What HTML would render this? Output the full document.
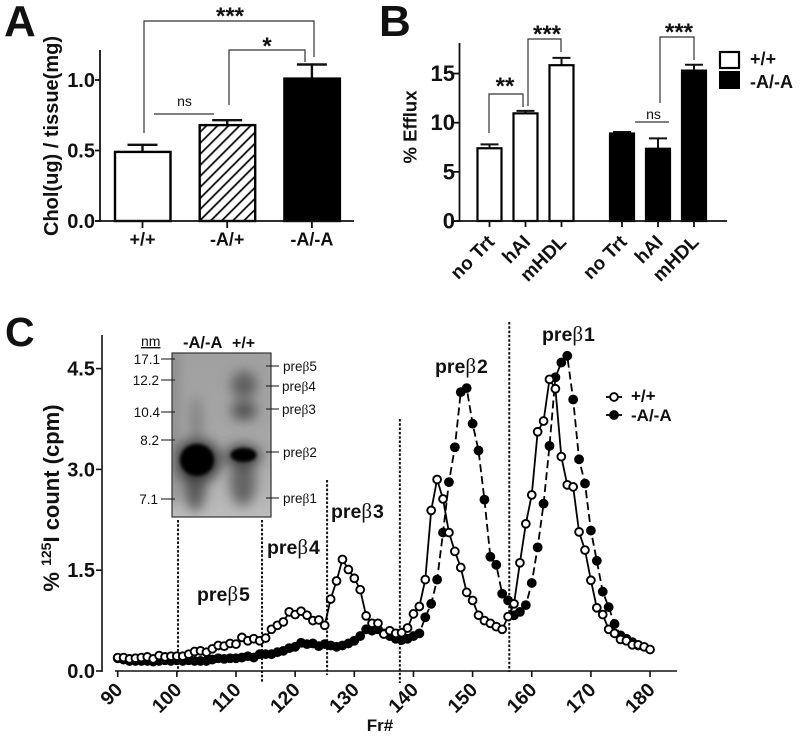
<!DOCTYPE html>
<html>
<head>
<meta charset="utf-8">
<title>Panels A, B, C</title>
<style>
html,body{margin:0;padding:0;background:#fff;}
svg{display:block;}
text{font-family:"Liberation Sans",sans-serif;fill:#111;}
.b{font-weight:bold;}
.beta{font-family:"Liberation Serif",serif;font-weight:normal;}
</style>
</head>
<body>
<svg id="fig" width="800" height="737" viewBox="0 0 800 737" xmlns="http://www.w3.org/2000/svg">
<defs>
<pattern id="hatch" width="7.8" height="7.8" patternUnits="userSpaceOnUse" patternTransform="rotate(45)">
<rect width="7.8" height="7.8" fill="#fff"/><rect x="0" width="1.8" height="7.8" fill="#111"/>
</pattern>
<filter id="b2"><feGaussianBlur stdDeviation="1.6"/></filter>
<filter id="b5"><feGaussianBlur stdDeviation="4"/></filter>
<filter id="b8"><feGaussianBlur stdDeviation="6"/></filter>
<clipPath id="gelclip"><rect x="172" y="353" width="99" height="164"/></clipPath>
<linearGradient id="gelbg" x1="0" y1="0" x2="0" y2="1">
<stop offset="0" stop-color="#a0a0a0"/><stop offset="0.6" stop-color="#a8a8a8"/><stop offset="1" stop-color="#bcbcbc"/>
</linearGradient>
</defs>

<text class="b" x="4" y="36" font-size="44">A</text>
<text class="b" x="379" y="36" font-size="44">B</text>
<text class="b" x="5" y="346" font-size="41">C</text>

<g id="panelA"></g>
<g id="panelB"></g>
<g id="panelC"></g>

<g>
<g clip-path="url(#gelclip)">
<rect x="172" y="353" width="99" height="164" fill="url(#gelbg)"/>
<g filter="url(#b8)">
<ellipse cx="195" cy="485" rx="11" ry="26" fill="#5a5a5a"/>
<ellipse cx="196" cy="425" rx="6" ry="30" fill="#808080"/>
<ellipse cx="244" cy="385" rx="13" ry="14" fill="#5e5e5e"/>
<ellipse cx="244" cy="411" rx="13" ry="9" fill="#505050"/>
<ellipse cx="243" cy="482" rx="13" ry="24" fill="#636363"/>
<ellipse cx="197" cy="461" rx="24" ry="22" fill="#3a3a3a"/>
<ellipse cx="243" cy="456" rx="18" ry="12" fill="#444"/>
<rect x="170" y="353" width="7" height="150" fill="#7e7e7e"/>
</g>
<g filter="url(#b2)">
<ellipse cx="197" cy="460" rx="17" ry="16" fill="#000"/>
<ellipse cx="243.5" cy="455" rx="13" ry="7" fill="#000"/>
</g>
</g>
<rect x="172" y="353" width="99" height="164" fill="none" stroke="#333" stroke-width="1.2"/>
<text x="141" y="346" font-size="14" text-decoration="underline">nm</text>
<text class="b" x="183" y="348" font-size="16.5">-A/-A</text>
<text class="b" x="232" y="348" font-size="16">+/+</text>
<g font-size="13.5" text-anchor="end">
<text x="160" y="364">17.1</text>
<text x="159" y="385">12.2</text>
<text x="160" y="417">10.4</text>
<text x="159" y="445">8.2</text>
<text x="158" y="504">7.1</text>
</g>
<g stroke="#222" stroke-width="1.1">
<line x1="161" x2="175" y1="359" y2="359"/><line x1="161" x2="175" y1="380" y2="380"/>
<line x1="161" x2="175" y1="412" y2="412"/><line x1="161" x2="175" y1="440" y2="440"/>
<line x1="161" x2="175" y1="499" y2="499"/>
<line x1="266" x2="279" y1="366" y2="366"/><line x1="266" x2="279" y1="386" y2="386"/>
<line x1="266" x2="279" y1="409" y2="409"/><line x1="266" x2="279" y1="452" y2="452"/>
<line x1="266" x2="279" y1="498" y2="498"/>
</g>
<g font-size="13.5">
<text x="283" y="371">pre<tspan class="beta">β</tspan>5</text>
<text x="282" y="391">pre<tspan class="beta">β</tspan>4</text>
<text x="282" y="414">pre<tspan class="beta">β</tspan>3</text>
<text x="283" y="457">pre<tspan class="beta">β</tspan>2</text>
<text x="283" y="503">pre<tspan class="beta">β</tspan>1</text>
</g>
</g>

<g font-size="19.5">
<text class="b" x="197" y="601">pre<tspan class="beta" font-size="21">β</tspan><tspan dx="1">5</tspan></text>
<text class="b" x="267" y="554">pre<tspan class="beta" font-size="21">β</tspan><tspan dx="1">4</tspan></text>
<text class="b" x="331" y="518">pre<tspan class="beta" font-size="21">β</tspan><tspan dx="1">3</tspan></text>
<text class="b" x="435" y="373">pre<tspan class="beta" font-size="21">β</tspan><tspan dx="1">2</tspan></text>
<text class="b" x="542" y="341">pre<tspan class="beta" font-size="21">β</tspan><tspan dx="1">1</tspan></text>
</g>

<script>
// Panel A data
var aCategories = ['+/+', '-A/+', '-A/-A'];
var aValues = [0.49, 0.68, 1.01];
var aErrors = [0.05, 0.035, 0.10];
var aTicks = ['0.0', '0.5', '1.0'];
var aTickValues = [0, 0.5, 1.0];

// Panel B data
var bCategories = ['no Trt', 'hAI', 'mHDL', 'no Trt', 'hAI', 'mHDL'];
var bValues = [7.4, 10.95, 15.85, 8.9, 7.35, 15.3];
var bErrors = [0.4, 0.25, 0.75, 0.15, 1.05, 0.6];
var bTicks = ['0', '5', '10', '15'];
var bTickValues = [0, 5, 10, 15];

// Panel C data
var cFractions = [90,91,92,93,94,95,96,97,98,99,100,101,102,103,104,105,106,107,108,109,110,111,112,113,114,115,116,117,118,119,120,121,122,123,124,125,126,127,128,129,130,131,132,133,134,135,136,137,138,139,140,141,142,143,144,145,146,147,148,149,150,151,152,153,154,155,156,157,158,159,160,161,162,163,164,165,166,167,168,169,170,171,172,173,174,175,176,177,178,179,180];
var cWildtype = [0.20,0.20,0.18,0.19,0.20,0.21,0.18,0.23,0.21,0.22,0.22,0.22,0.25,0.29,0.30,0.28,0.33,0.38,0.37,0.41,0.40,0.50,0.45,0.48,0.45,0.49,0.62,0.68,0.73,0.88,0.84,0.89,0.83,0.75,0.76,0.68,1.07,1.34,1.66,1.51,1.38,1.21,0.82,0.71,0.71,0.55,0.60,0.56,0.57,0.64,0.85,0.96,1.36,2.39,2.85,2.56,2.06,1.78,1.54,1.17,1.05,0.83,0.75,0.71,0.66,0.62,0.81,1.00,1.61,2.19,2.62,3.56,3.72,4.34,4.20,3.19,2.77,2.74,2.07,1.80,1.35,0.94,0.84,0.62,0.56,0.47,0.45,0.39,0.39,0.36,0.32];
var cKnockout = [0.19,0.17,0.15,0.15,0.15,0.15,0.14,0.15,0.16,0.15,0.16,0.15,0.16,0.15,0.15,0.15,0.17,0.19,0.18,0.19,0.19,0.20,0.22,0.20,0.25,0.25,0.25,0.28,0.30,0.34,0.36,0.42,0.40,0.41,0.37,0.40,0.38,0.36,0.38,0.41,0.45,0.52,0.62,0.60,0.62,0.56,0.52,0.48,0.46,0.48,0.52,0.56,0.80,1.00,1.36,2.06,2.81,3.33,4.15,4.21,3.68,3.28,2.55,1.70,1.58,1.15,1.05,0.83,0.88,0.98,1.31,1.84,2.49,3.35,4.37,4.59,4.69,4.04,3.15,2.79,2.09,1.64,1.18,0.95,0.70,0.53,0.48,0.43,0.38];
var cYTicks = ['0.0', '1.5', '3.0', '4.5'];
var cYTickValues = [0, 1.5, 3.0, 4.5];
var cXTicks = [90,100,110,120,130,140,150,160,170,180];
var cBoundaries = [100.2, 114.4, 125.4, 137.7, 156.2];

var NS = 'http://www.w3.org/2000/svg';
function mk(tag, attrs, parent) {
  var el = document.createElementNS(NS, tag);
  for (var k in attrs) { el.setAttribute(k, attrs[k]); }
  parent.appendChild(el);
  return el;
}
function line(x1, y1, x2, y2, w, col, parent) {
  return mk('line', {x1: x1, y1: y1, x2: x2, y2: y2, 'stroke-width': w, stroke: col}, parent);
}
function label(str, x, y, size, anchor, parent, bold) {
  var t = mk('text', {x: x, y: y, 'font-size': size, 'text-anchor': anchor}, parent);
  if (bold) { t.setAttribute('class', 'b'); }
  t.textContent = str;
  return t;
}
function bracket(pts, parent) {
  return mk('polyline', {points: pts, fill: 'none', stroke: '#333', 'stroke-width': 1.2}, parent);
}

/* ---------- Panel A ---------- */
var pa = document.getElementById('panelA');
function ay(v) { return 221 - v * 141; }
function ax(i) { return 115 + i * 84.7; }
var aFills = ['#fff', 'url(#hatch)', '#000'];
aValues.forEach(function (v, i) {
  var cx = ax(i) + 27.5;
  var e = line(cx, ay(v), cx, ay(v + aErrors[i]), 2.4, '#111', pa);
  
  
  var c = line(cx - 15, ay(v + aErrors[i]), cx + 15, ay(v + aErrors[i]), 2.4, '#111', pa);
  
  
  var r = mk('rect', {x: ax(i), y: ay(v), width: 55.5, height: ay(0) - ay(v), fill: aFills[i], stroke: '#000', 'stroke-width': 2.4}, pa);
  
  
  var tk = line(cx, 221, cx, 228, 1.8, '#111', pa);
  
  
  var t = label(aCategories[i], cx, 245.5, 18, 'middle', pa, true);
  
  
});
var aYAxis = line(100, 50, 100, 222, 1.8, '#111', pa);


var aXAxis = line(95, 221, 354, 221, 1.8, '#111', pa);


aTickValues.forEach(function (v, i) {
  var tk = line(95, ay(v), 100, ay(v), 1.8, '#111', pa);
  
  
  var t = label(aTicks[i], 95, ay(v) + 7, 20, 'end', pa, true);
  
  
});
var aTitle = label('Chol(ug) / tissue(mg)', 0, 0, 20, 'middle', pa, true);
aTitle.setAttribute('transform', 'translate(58,136) rotate(-90)');


var br1 = bracket('144,133 144,21 314,21 314,57', pa);


var br2 = bracket('229,105 229,50 305,50 305,62', pa);


var nsA = line(154, 114, 214, 114, 1.2, '#333', pa);


var s1 = label('***', 230, 24, 24, 'middle', pa, true);


var s2 = label('*', 267, 54, 24, 'middle', pa, true);


var s3 = label('ns', 184.5, 106, 14, 'middle', pa, false);



/* ---------- Panel B ---------- */
var pb = document.getElementById('panelB');
function by(v) { return 221 - v * 9.83; }
function bx(i) { return (i < 3 ? 477.5 + i * 36 : 610 + (i - 3) * 36); }
bValues.forEach(function (v, i) {
  var cx = bx(i) + 12;
  var e = line(cx, by(v), cx, by(v + bErrors[i]), 2, '#111', pb);
  
  
  var c = line(cx - 9, by(v + bErrors[i]), cx + 9, by(v + bErrors[i]), 2, '#111', pb);
  
  
  var r = mk('rect', {x: bx(i), y: by(v), width: 24, height: by(0) - by(v), fill: i < 3 ? '#fff' : '#000', stroke: '#000', 'stroke-width': 2.2}, pb);
  
  
  var tk = line(cx, 221, cx, 227, 1.8, '#111', pb);
  
  
  var t = label(bCategories[i], 0, 0, 19, 'end', pb, true);
  t.setAttribute('transform', 'translate(' + (cx + 6) + ',243) rotate(-45)');
  
  
});
var bYAxis = line(459.5, 43, 459.5, 222, 1.8, '#111', pb);


var bXAxis = line(453, 221, 727, 221, 1.8, '#111', pb);


bTickValues.forEach(function (v, i) {
  var tk = line(453, by(v), 459.5, by(v), 1.8, '#111', pb);
  
  
  var t = label(bTicks[i], 455, by(v) + 7.5, 22, 'end', pb, true);
  
  
});
var bTitle = label('% Efflux', 0, 0, 18.5, 'middle', pb, true);
bTitle.setAttribute('transform', 'translate(416.5,127) rotate(-90)');


var br3 = bracket('489,133 489,94 523,94 523,107', pb);


var br4 = bracket('528,106 528,39 561,39 561,52', pb);


var br5 = bracket('660,103 660,37 694,37 694,60', pb);


var nsB = line(635, 122, 669, 122, 1.2, '#333', pb);


var s4 = label('**', 505, 94, 24, 'middle', pb, true);


var s5 = label('***', 547, 42, 24, 'middle', pb, true);


var s6 = label('***', 679, 40, 24, 'middle', pb, true);


var s7 = label('ns', 653.5, 119, 14, 'middle', pb, false);


var lg1 = mk('rect', {x: 720, y: 52, width: 19, height: 16, fill: '#fff', stroke: '#000', 'stroke-width': 2.2}, pb);


var lg2 = mk('rect', {x: 720, y: 72, width: 19, height: 16, fill: '#000', stroke: '#000', 'stroke-width': 2}, pb);


var lg3 = label('+/+', 750, 65, 18, 'start', pb, true);


var lg4 = label('-A/-A', 750, 88, 18, 'start', pb, true);



/* ---------- Panel C ---------- */
var pc = document.getElementById('panelC');
function cx(f) { return 117.7 + (f - 90) * 5.915; }
function cy(v) { return 671 - v * 67.2; }
var cYAxis = line(102, 335, 102, 672, 1.6, '#111', pc);


var cXAxis = line(115, 671, 677, 671, 1.6, '#111', pc);


cYTickValues.forEach(function (v, i) {
  var tk = line(96, cy(v), 102, cy(v), 1.6, '#111', pc);
  
  
  var t = label(cYTicks[i], 95, cy(v) + 7, 20, 'end', pc, true);
  
  
});
cXTicks.forEach(function (f) {
  var tk = line(cx(f), 671, cx(f), 677, 1.6, '#111', pc);
  
  
  var t = label(String(f), 0, 0, 19.5, 'end', pc, true);
  t.setAttribute('transform', 'translate(' + (cx(f) + 6) + ',691) rotate(-45)');
  
  
});
var cBoundaryTops = [520, 520, 480, 419, 322];
var cBoundaryBottoms = [672, 682, 675, 683, 672];
cBoundaries.forEach(function (f, i) {
  var d = line(cx(f), cBoundaryTops[i], cx(f), cBoundaryBottoms[i], 2, '#111', pc);
  d.setAttribute('stroke-dasharray', '2.5 1.8');
  
  
});
var cTitle = mk('text', {'font-size': 22, 'text-anchor': 'middle', 'class': 'b', transform: 'translate(59,498) rotate(-90)'}, pc);


var ct1 = mk('tspan', {}, cTitle);
ct1.textContent = '% ';
var ct2 = mk('tspan', {'font-size': 14, dy: -8}, cTitle);
ct2.textContent = '125';
var ct3 = mk('tspan', {dy: 8}, cTitle);
ct3.textContent = 'I count (cpm)';
var cXTitle = label('Fr#', 380, 731, 17, 'middle', pc, true);



function pts(vals) {
  return vals.map(function (v, i) { return cx(cFractions[i]) + ',' + cy(v); }).join(' ');
}
var koLine = mk('polyline', {points: pts(cKnockout), fill: 'none', stroke: '#000', 'stroke-width': 1.8, 'stroke-dasharray': '8 4'}, pc);


var wtLine = mk('polyline', {points: pts(cWildtype), fill: 'none', stroke: '#000', 'stroke-width': 1.8}, pc);


cKnockout.forEach(function (v, i) {
  var p = mk('circle', {cx: cx(cFractions[i]), cy: cy(v), r: 4.9, fill: '#000'}, pc);
  
  
});
cWildtype.forEach(function (v, i) {
  var p = mk('circle', {cx: cx(cFractions[i]), cy: cy(v), r: 3.9, fill: '#fff', stroke: '#000', 'stroke-width': 1.9}, pc);
  
  
});
var l1 = line(606, 397, 622, 397, 1.8, '#000', pc);


var l2 = mk('circle', {cx: 614, cy: 397, r: 3.9, fill: '#fff', stroke: '#000', 'stroke-width': 1.9}, pc);


var l3 = line(606, 415, 622, 415, 1.8, '#000', pc);


var l4 = mk('circle', {cx: 614, cy: 415, r: 4.9, fill: '#000'}, pc);


var l5 = label('+/+', 631, 401.5, 17, 'start', pc, true);


var l6 = label('-A/-A', 631, 421, 17, 'start', pc, true);


</script>
</svg>
</body>
</html>
